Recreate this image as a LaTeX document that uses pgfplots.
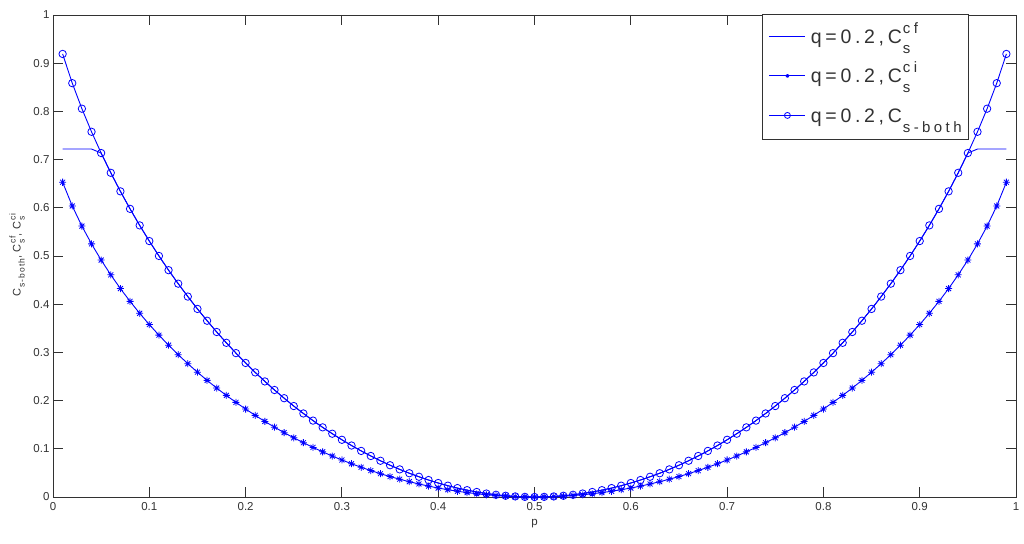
\documentclass[border=0pt]{standalone}
\usepackage{fontspec}
\setmainfont{Liberation Sans}
\usepackage{pgfplots}
\usepackage{pgfplotstable}
\pgfplotsset{compat=1.18}
\definecolor{mb}{RGB}{0,0,255}
\definecolor{ax}{RGB}{50,50,50}

\pgfdeclareplotmark{mstar}{%
 \pgfpathmoveto{\pgfpoint{-\pgfplotmarksize}{0pt}}\pgfpathlineto{\pgfpoint{\pgfplotmarksize}{0pt}}%
 \pgfpathmoveto{\pgfpoint{0pt}{-\pgfplotmarksize}}\pgfpathlineto{\pgfpoint{0pt}{\pgfplotmarksize}}%
 \pgfpathmoveto{\pgfpoint{-0.7071\pgfplotmarksize}{-0.7071\pgfplotmarksize}}\pgfpathlineto{\pgfpoint{0.7071\pgfplotmarksize}{0.7071\pgfplotmarksize}}%
 \pgfpathmoveto{\pgfpoint{-0.7071\pgfplotmarksize}{0.7071\pgfplotmarksize}}\pgfpathlineto{\pgfpoint{0.7071\pgfplotmarksize}{-0.7071\pgfplotmarksize}}%
 \pgfusepathqstroke}

% sub/superscript pair: #1 sub, #2 sup, #3 size, #4 sub drop, #5 sup raise
\newcommand\SubSup[5]{%
 \begingroup\fontsize{#3}{#3}\selectfont
 \setbox0=\hbox{\raisebox{-#4}{#1}}%
 \setbox2=\hbox{\raisebox{#5}{#2}}%
 \ifdim\wd0>\wd2 \rlap{\box2}\box0 \else\rlap{\box0}\box2 \fi
 \endgroup}
\def\k{\kern3.7pt}
\def\j{\kern3.4pt}
\newcommand\legq{q\k=\k0\k.\k2\k,\k C}
\newcommand\leg[2]{{\fontsize{19.5}{19.5}\selectfont\legq\kern1pt\SubSup{#1}{#2}{15}{10pt}{10pt}}}
\def\y{\kern1pt}
\def\z{\kern1pt}

\pgfplotstableread{
p both ci cf
0.01 0.9192 0.6530 0.7219
0.02 0.8586 0.6038 0.7219
0.03 0.8056 0.5621 0.7219
0.04 0.7577 0.5251 0.7219
0.05 0.7136 0.4916 0.7136
0.06 0.6726 0.4609 0.6726
0.07 0.6341 0.4324 0.6341
0.08 0.5978 0.4059 0.5978
0.09 0.5635 0.3811 0.5635
0.10 0.5310 0.3578 0.5310
0.11 0.5001 0.3358 0.5001
0.12 0.4706 0.3150 0.4706
0.13 0.4426 0.2953 0.4426
0.14 0.4158 0.2766 0.4158
0.15 0.3902 0.2589 0.3902
0.16 0.3657 0.2420 0.3657
0.17 0.3423 0.2260 0.3423
0.18 0.3199 0.2108 0.3199
0.19 0.2985 0.1963 0.2985
0.20 0.2781 0.1825 0.2781
0.21 0.2585 0.1693 0.2585
0.22 0.2398 0.1568 0.2398
0.23 0.2220 0.1449 0.2220
0.24 0.2050 0.1335 0.2050
0.25 0.1887 0.1228 0.1887
0.26 0.1733 0.1126 0.1733
0.27 0.1585 0.1029 0.1585
0.28 0.1445 0.0937 0.1445
0.29 0.1313 0.0850 0.1313
0.30 0.1187 0.0768 0.1187
0.31 0.1068 0.0690 0.1068
0.32 0.0956 0.0617 0.0956
0.33 0.0851 0.0548 0.0851
0.34 0.0752 0.0484 0.0752
0.35 0.0659 0.0424 0.0659
0.36 0.0573 0.0369 0.0573
0.37 0.0493 0.0317 0.0493
0.38 0.0420 0.0270 0.0420
0.39 0.0352 0.0226 0.0352
0.40 0.0290 0.0186 0.0290
0.41 0.0235 0.0151 0.0235
0.42 0.0185 0.0119 0.0185
0.43 0.0142 0.0091 0.0142
0.44 0.0104 0.0067 0.0104
0.45 0.0072 0.0046 0.0072
0.46 0.0046 0.0030 0.0046
0.47 0.0026 0.0017 0.0026
0.48 0.0012 0.0007 0.0012
0.49 0.0003 0.0002 0.0003
0.50 0.0000 0.0000 0.0000
0.51 0.0003 0.0002 0.0003
0.52 0.0012 0.0007 0.0012
0.53 0.0026 0.0017 0.0026
0.54 0.0046 0.0030 0.0046
0.55 0.0072 0.0046 0.0072
0.56 0.0104 0.0067 0.0104
0.57 0.0142 0.0091 0.0142
0.58 0.0185 0.0119 0.0185
0.59 0.0235 0.0151 0.0235
0.60 0.0290 0.0186 0.0290
0.61 0.0352 0.0226 0.0352
0.62 0.0420 0.0270 0.0420
0.63 0.0493 0.0317 0.0493
0.64 0.0573 0.0369 0.0573
0.65 0.0659 0.0424 0.0659
0.66 0.0752 0.0484 0.0752
0.67 0.0851 0.0548 0.0851
0.68 0.0956 0.0617 0.0956
0.69 0.1068 0.0690 0.1068
0.70 0.1187 0.0768 0.1187
0.71 0.1313 0.0850 0.1313
0.72 0.1445 0.0937 0.1445
0.73 0.1585 0.1029 0.1585
0.74 0.1733 0.1126 0.1733
0.75 0.1887 0.1228 0.1887
0.76 0.2050 0.1335 0.2050
0.77 0.2220 0.1449 0.2220
0.78 0.2398 0.1568 0.2398
0.79 0.2585 0.1693 0.2585
0.80 0.2781 0.1825 0.2781
0.81 0.2985 0.1963 0.2985
0.82 0.3199 0.2108 0.3199
0.83 0.3423 0.2260 0.3423
0.84 0.3657 0.2420 0.3657
0.85 0.3902 0.2589 0.3902
0.86 0.4158 0.2766 0.4158
0.87 0.4426 0.2953 0.4426
0.88 0.4706 0.3150 0.4706
0.89 0.5001 0.3358 0.5001
0.90 0.5310 0.3578 0.5310
0.91 0.5635 0.3811 0.5635
0.92 0.5978 0.4059 0.5978
0.93 0.6341 0.4324 0.6341
0.94 0.6726 0.4609 0.6726
0.95 0.7136 0.4916 0.7136
0.96 0.7577 0.5251 0.7219
0.97 0.8056 0.5621 0.7219
0.98 0.8586 0.6038 0.7219
0.99 0.9192 0.6530 0.7219
}\datatab

\begin{document}
\begin{tikzpicture}
\begin{axis}[
  at={(53pt,46pt)}, anchor=south west,
  width=963pt, height=482pt, scale only axis,
  xmin=0, xmax=1, ymin=0, ymax=1,
  xtick={0,0.1,0.2,0.3,0.4,0.5,0.6,0.7,0.8,0.9,1},
  ytick={0,0.1,0.2,0.3,0.4,0.5,0.6,0.7,0.8,0.9,1},
  tick align=inside, major tick length=9.6pt,
  axis line style={ax, line width=0.9pt},
  tick style={ax, line width=0.9pt},
  /pgf/number format/assume math mode=true,
  tick label style={font=\fontsize{11.5}{11.5}\selectfont, text=ax},
  x tick label style={yshift=-2pt},
  xlabel={p},
  xlabel style={at={(axis description cs:0.5,-0.0591)}, anchor=base, inner sep=0pt, text=ax,
    font=\fontsize{11.5}{11.5}\selectfont},
  ylabel={C\y\SubSup{s\z-\z b\z o\z t\z h}{}{8.5}{4pt}{0pt}, C\y\SubSup{s}{c\z f}{8.5}{4pt}{5pt}, C\y\SubSup{s}{c\z i}{8.5}{4pt}{5pt}},
  ylabel style={at={(axis description cs:-0.0291,0.502)}, anchor=south, inner sep=0pt, text=ax,
    font=\fontsize{11}{11}\selectfont},
  clip=false,
  legend image code/.code={\draw[mark repeat=2,mark phase=2,#1] plot coordinates {(0pt,7pt) (18pt,7pt) (36pt,7pt)};},
  legend cell align=left,
  legend style={at={(0.9512,1.002)}, anchor=north east, draw=ax, line width=0.8pt,
    inner xsep=7pt, inner ysep=3pt, row sep=0pt, column sep=5pt,
    nodes={inner sep=0pt, text height=26pt, text depth=13.5pt, anchor=base west}, text=ax},
]
\addplot[color=mb, line width=0.9pt] table[x=p, y=cf] {\datatab};
\addlegendentry{\leg{s}{c\j f}}
\addplot[color=mb, line width=0.9pt, mark=mstar, mark size=3.5pt, mark options={solid, line width=0.8pt},
  legend image post style={mark size=1.8pt}] table[x=p, y=ci] {\datatab};
\addlegendentry{\leg{s}{c\j i}}
\addplot[color=mb, line width=0.9pt, mark=o, mark size=3.7pt, mark options={solid, line width=0.8pt},
  legend image post style={mark size=3pt}] table[x=p, y=both] {\datatab};
\addlegendentry{\leg{s\j-\j b\j o\j t\j h}{}}
\end{axis}
\pgfresetboundingbox
\useasboundingbox (0,0) rectangle (1024pt,543pt);
\end{tikzpicture}
\end{document}
